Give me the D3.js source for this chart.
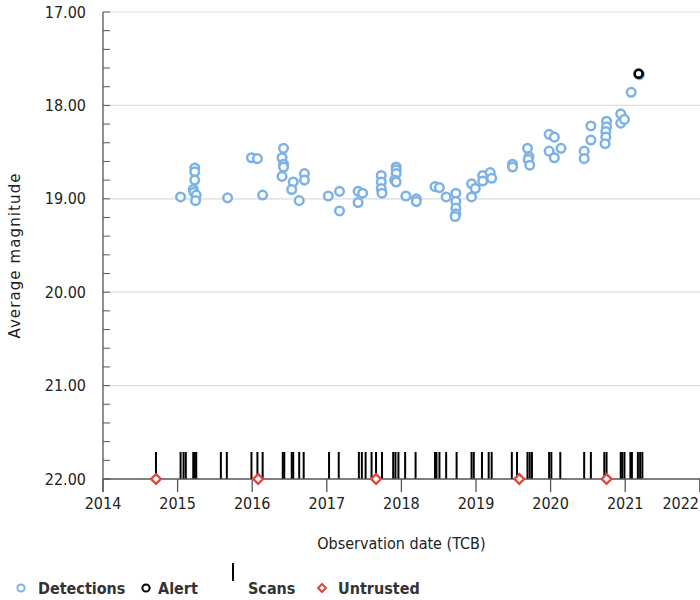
<!DOCTYPE html>
<html>
<head>
<meta charset="utf-8">
<script src="https://cdn.jsdelivr.net/npm/d3@7"></script>
<style>
  html, body { margin: 0; padding: 0; background: #fff; }
  svg { display: block; }
  .cond { font-family: "DejaVu Sans Condensed", "DejaVu Sans", sans-serif; font-stretch: condensed; }
</style>
</head>
<body>
<svg id="chart" width="700" height="600"></svg>
<script>
// Light-curve observations: [decimal year, average magnitude]
const detections = [
  [2015.04, 18.98],
  [2015.23, 18.67], [2015.23, 18.71], [2015.23, 18.80], [2015.21, 18.90], [2015.22, 18.93],
  [2015.25, 18.96], [2015.24, 19.02],
  [2015.67, 18.99],
  [2015.99, 18.56], [2016.07, 18.57], [2016.14, 18.96],
  [2016.42, 18.46], [2016.40, 18.56], [2016.42, 18.63], [2016.42, 18.66], [2016.40, 18.76],
  [2016.55, 18.82], [2016.53, 18.90], [2016.63, 19.02], [2016.70, 18.73], [2016.70, 18.80],
  [2017.02, 18.97], [2017.17, 18.92], [2017.17, 19.13],
  [2017.42, 18.92], [2017.48, 18.94], [2017.42, 19.04],
  [2017.73, 18.75], [2017.73, 18.82], [2017.73, 18.89], [2017.74, 18.94],
  [2017.93, 18.66], [2017.93, 18.69], [2017.93, 18.73], [2017.91, 18.80], [2017.93, 18.82],
  [2018.06, 18.97], [2018.20, 19.00], [2018.20, 19.03],
  [2018.45, 18.87], [2018.51, 18.88], [2018.60, 18.98],
  [2018.73, 18.94], [2018.73, 19.03], [2018.73, 19.10], [2018.73, 19.16], [2018.72, 19.19],
  [2018.94, 18.84], [2018.94, 18.98], [2018.99, 18.89],
  [2019.09, 18.75], [2019.09, 18.81], [2019.19, 18.72], [2019.21, 18.78],
  [2019.49, 18.63], [2019.49, 18.66],
  [2019.69, 18.46], [2019.71, 18.55], [2019.70, 18.58], [2019.72, 18.64],
  [2019.98, 18.31], [2020.05, 18.34], [2019.98, 18.49], [2020.05, 18.56], [2020.14, 18.46],
  [2020.45, 18.49], [2020.45, 18.57], [2020.54, 18.22], [2020.54, 18.37],
  [2020.75, 18.17], [2020.75, 18.23], [2020.74, 18.28], [2020.74, 18.34], [2020.73, 18.41],
  [2020.94, 18.09], [2020.94, 18.19], [2020.99, 18.15],
  [2021.08, 17.86], [2021.19, 17.67]
];
const alerts = [[2021.18, 17.66]];
const scans = [
  2014.71, 2015.04, 2015.08, 2015.11, 2015.21, 2015.23, 2015.25, 2015.58, 2015.66,
  2015.99, 2016.07, 2016.14, 2016.41, 2016.43, 2016.53, 2016.55, 2016.63, 2016.69,
  2017.03, 2017.16, 2017.43, 2017.47, 2017.52, 2017.60, 2017.66, 2017.74,
  2017.89, 2017.92, 2017.96, 2018.05, 2018.19, 2018.45, 2018.47, 2018.51, 2018.60, 2018.74,
  2018.94, 2018.97, 2019.08, 2019.17, 2019.21, 2019.48, 2019.55, 2019.69, 2019.72, 2019.75,
  2019.98, 2020.01, 2020.13, 2020.45, 2020.54, 2020.72, 2020.75,
  2020.94, 2020.96, 2020.99, 2021.07, 2021.09, 2021.17, 2021.20, 2021.23
];
const untrusted = [2014.71, 2016.08, 2017.66, 2019.58, 2020.75];
const yearTicks = [2014, 2015, 2016, 2017, 2018, 2019, 2020, 2021, 2022];
const magTicks = [17, 18, 19, 20, 21, 22];
const magMinorTicks = d3.range(17, 22.001, 0.2);
const legendItems = ["Detections", "Alert", "Scans", "Untrusted"];

const W = 700, H = 600;
const plotLeft = 103, plotRight = 699.8, plotTop = 12, plotBottom = 479;
const blue = "#7db2e6", red = "#e2453a", axisCol = "#555", gridCol = "#dcdcdc";

const svg = d3.select("#chart");
const x = d3.scaleLinear().domain([2014, 2022]).range([plotLeft, plotRight]);
const y = d3.scaleLinear().domain([17, 22]).range([plotTop, plotBottom]);

// horizontal grid lines at whole magnitudes
svg.append("g").selectAll("line").data(magTicks.slice(0, -1)).join("line")
  .attr("x1", plotLeft).attr("x2", W)
  .attr("y1", d => y(d)).attr("y2", d => y(d))
  .attr("stroke", gridCol).attr("stroke-width", 1.2);

// y axis: line, minor ticks pointing into the plot, labels
const yAxis = svg.append("g");
yAxis.append("line").attr("x1", plotLeft).attr("x2", plotLeft)
  .attr("y1", plotTop).attr("y2", plotBottom + 13)
  .attr("stroke", axisCol).attr("stroke-width", 1.3);
yAxis.selectAll(".minor").data(magMinorTicks).join("line")
  .attr("x1", plotLeft).attr("x2", plotLeft + 7)
  .attr("y1", d => y(d)).attr("y2", d => y(d))
  .attr("stroke", axisCol).attr("stroke-width", 1);
yAxis.selectAll("text").data(magTicks).join("text")
  .attr("class", "cond")
  .attr("x", 86).attr("y", d => y(d)).attr("dy", "0.35em")
  .attr("text-anchor", "end").attr("font-size", 16).attr("fill", "#222")
  .text(d3.format(".2f"));

svg.append("text")
  .attr("transform", `translate(20,${(plotTop + plotBottom) / 2 + 10}) rotate(-90)`)
  .attr("text-anchor", "middle").attr("font-family", "DejaVu Sans, sans-serif")
  .attr("font-size", 15).attr("letter-spacing", 1.1).attr("fill", "#222")
  .text("Average magnitude");

// scan markers rising from the baseline
const scanHeight = 27;
svg.append("g").selectAll("line").data(scans).join("line")
  .attr("x1", d => x(d)).attr("x2", d => x(d))
  .attr("y1", y(22) - scanHeight).attr("y2", y(22))
  .attr("stroke", "#000").attr("stroke-width", 2);

// x axis
const xAxis = svg.append("g");
xAxis.append("line").attr("x1", plotLeft).attr("x2", W)
  .attr("y1", plotBottom).attr("y2", plotBottom)
  .attr("stroke", axisCol).attr("stroke-width", 1.3);
xAxis.selectAll(".tick").data(yearTicks).join("line")
  .attr("x1", d => x(d)).attr("x2", d => x(d))
  .attr("y1", plotBottom).attr("y2", plotBottom + 13)
  .attr("stroke", axisCol).attr("stroke-width", 1.3);
// the last year label is pulled inside the right edge
xAxis.selectAll("text").data(yearTicks).join("text")
  .attr("class", "cond")
  .attr("x", d => (x(d) + 18 > W ? W - 1 : x(d))).attr("y", plotBottom + 30)
  .attr("text-anchor", d => (x(d) + 18 > W ? "end" : "middle"))
  .attr("font-size", 16).attr("fill", "#222")
  .text(d => d);

svg.append("text").attr("class", "cond")
  .attr("x", (plotLeft + plotRight) / 2).attr("y", 549)
  .attr("text-anchor", "middle").attr("font-size", 16).attr("fill", "#222")
  .text("Observation date (TCB)");

// untrusted epochs on the baseline
const diamond = d3.symbol().type(d3.symbolDiamond2).size(60);
svg.append("g").selectAll("path").data(untrusted).join("path")
  .attr("d", diamond)
  .attr("transform", d => `translate(${x(d)},${y(22)})`)
  .attr("fill", "#fff").attr("stroke", red).attr("stroke-width", 2.4);

// detections and alerts
svg.append("g").selectAll("circle").data(detections).join("circle")
  .attr("cx", d => x(d[0])).attr("cy", d => y(d[1])).attr("r", 4.3)
  .attr("fill", "#fff").attr("stroke", blue).attr("stroke-width", 2.5);
svg.append("g").selectAll("circle").data(alerts).join("circle")
  .attr("cx", d => x(d[0])).attr("cy", d => y(d[1])).attr("r", 4)
  .attr("fill", "#fff").attr("stroke", "#000").attr("stroke-width", 2.6);

// legend
const lg = svg.append("g").attr("class", "cond").attr("font-weight", "bold")
  .attr("font-size", 16).attr("fill", "#333");
const ly = 588;
lg.append("circle").attr("cx", 21).attr("cy", ly).attr("r", 3.6)
  .attr("fill", "#fff").attr("stroke", blue).attr("stroke-width", 2);
lg.append("text").attr("x", 38).attr("y", ly).attr("dy", "0.35em").text(legendItems[0]);
lg.append("circle").attr("cx", 146).attr("cy", ly).attr("r", 3.6)
  .attr("fill", "#fff").attr("stroke", "#000").attr("stroke-width", 2);
lg.append("text").attr("x", 158).attr("y", ly).attr("dy", "0.35em").text(legendItems[1]);
lg.append("line").attr("x1", 233).attr("x2", 233).attr("y1", 563).attr("y2", 581)
  .attr("stroke", "#000").attr("stroke-width", 2);
lg.append("text").attr("x", 248).attr("y", ly).attr("dy", "0.35em").text(legendItems[2]);
lg.append("path").attr("d", d3.symbol().type(d3.symbolDiamond2).size(40))
  .attr("transform", `translate(322,${ly})`)
  .attr("fill", "#fff").attr("stroke", red).attr("stroke-width", 2);
lg.append("text").attr("x", 338).attr("y", ly).attr("dy", "0.35em").text(legendItems[3]);
</script>
</body>
</html>
